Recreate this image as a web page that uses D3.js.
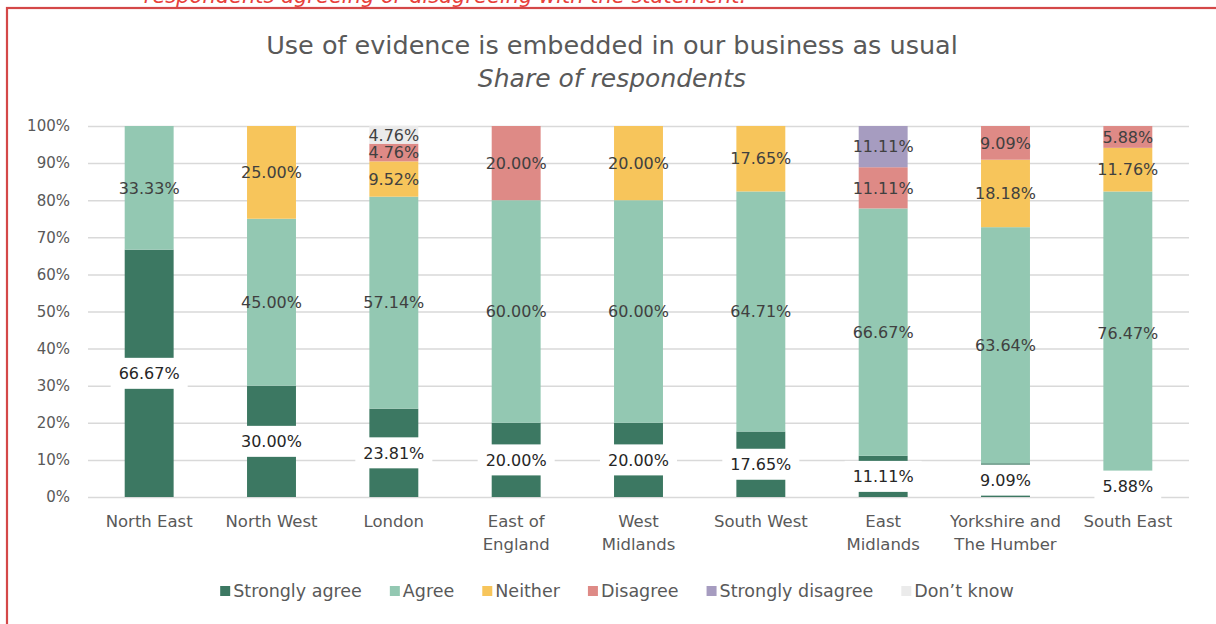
<!DOCTYPE html>
<html>
<head>
<meta charset="utf-8">
<script src="https://cdn.jsdelivr.net/npm/d3@7"></script>
<style>
  html, body { margin: 0; padding: 0; background: #fff; }
  svg { display: block; font-family: "DejaVu Sans", sans-serif; }
</style>
</head>
<body>
<div id="chart"></div>
<script>
// categories and their wrapped axis labels
const categories = ["North East", "North West", "London", "East of England", "West Midlands",
  "South West", "East Midlands", "Yorkshire and The Humber", "South East"];
const categoryLines = [["North East"], ["North West"], ["London"], ["East of", "England"],
  ["West", "Midlands"], ["South West"], ["East", "Midlands"], ["Yorkshire and", "The Humber"], ["South East"]];

// series (percent of respondents)
const seriesNames = ["Strongly agree", "Agree", "Neither", "Disagree", "Strongly disagree", "Don\u2019t know"];
const stronglyAgree    = [66.67, 30.00, 23.81, 20.00, 20.00, 17.65, 11.11, 9.09, 5.88];
const agree            = [33.33, 45.00, 57.14, 60.00, 60.00, 64.71, 66.67, 63.64, 76.47];
const neither          = [0, 25.00, 9.52, 0, 20.00, 17.65, 0, 18.18, 11.76];
const disagree         = [0, 0, 4.76, 20.00, 0, 0, 11.11, 9.09, 5.88];
const stronglyDisagree = [0, 0, 0, 0, 0, 0, 11.11, 0, 0];
const dontKnow         = [0, 0, 4.76, 0, 0, 0, 0, 0, 0];

const yTicks = [0, 10, 20, 30, 40, 50, 60, 70, 80, 90, 100];
const colors = ["#3c7862", "#93c8b2", "#f7c55b", "#de8a86", "#a69cc0", "#ebebeb"];

const seriesValues = [stronglyAgree, agree, neither, disagree, stronglyDisagree, dontKnow];
const rows = categories.map((c, i) => {
  const r = { cat: c };
  seriesNames.forEach((s, j) => { r[s] = seriesValues[j][i]; });
  return r;
});

const W = 1216, H = 624;
const svg = d3.select("#chart").append("svg")
  .attr("width", W).attr("height", H);

svg.append("rect").attr("width", W).attr("height", H).attr("fill", "#fff");

// caption from the page above, cut off at the top edge as in the source
svg.append("text")
  .attr("x", 445).attr("y", 3)
  .attr("text-anchor", "middle")
  .attr("font-size", 21)
  .attr("font-style", "italic")
  .attr("fill", "#e8403a")
  .text("respondents agreeing or disagreeing with the statement.");

// red frame
svg.append("rect")
  .attr("x", 7).attr("y", 8)
  .attr("width", W + 20).attr("height", H + 20)
  .attr("fill", "none")
  .attr("stroke", "#d44848")
  .attr("stroke-width", 2.2);

const x = d3.scaleBand()
  .domain(categories)
  .range([88, 1189])
  .paddingInner(0.6)
  .paddingOuter(0.3);

const y = d3.scaleLinear()
  .domain([0, 100])
  .range([497, 126]);

// title
svg.append("text")
  .attr("x", 612).attr("y", 54)
  .attr("text-anchor", "middle")
  .attr("font-size", 25.5)
  .attr("fill", "#595959")
  .text("Use of evidence is embedded in our business as usual");

svg.append("text")
  .attr("x", 612).attr("y", 87)
  .attr("text-anchor", "middle")
  .attr("font-size", 25)
  .attr("font-style", "italic")
  .attr("fill", "#595959")
  .text("Share of respondents");

// gridlines + y axis
const yAxis = svg.append("g")
  .attr("transform", "translate(88,0)")
  .call(d3.axisLeft(y).tickValues(yTicks).tickFormat(d => d + "%").tickSize(-1101).tickPadding(18));
yAxis.select(".domain").remove();
yAxis.selectAll(".tick line").attr("stroke", "#d9d9d9").attr("stroke-width", 1.5);
yAxis.selectAll(".tick text")
  .attr("font-size", 15)
  .attr("fill", "#595959")
  .attr("font-family", "DejaVu Sans, sans-serif");

// bars
const stacked = d3.stack().keys(seriesNames)(rows);

const layers = svg.append("g").selectAll("g")
  .data(stacked)
  .join("g")
  .attr("fill", (d, i) => colors[i]);

layers.selectAll("rect")
  .data(d => d)
  .join("rect")
  .attr("x", d => x(d.data.cat))
  .attr("width", x.bandwidth())
  .attr("y", d => y(d[1]))
  .attr("height", d => y(d[0]) - y(d[1]));

// data labels
const labelG = svg.append("g").attr("font-size", 16).attr("text-anchor", "middle");
stacked.forEach((layer, li) => {
  layer.forEach(d => {
    const v = d[1] - d[0];
    if (v <= 0) return;
    const cx = x(d.data.cat) + x.bandwidth() / 2;
    const cy = y((d[0] + d[1]) / 2);
    const txt = d.data[layer.key].toFixed(2) + "%";
    if (li === 0) {
      // strongly agree labels sit in a white box
      const t = labelG.append("text")
        .attr("x", cx).attr("y", cy).attr("dy", "0.36em")
        .attr("fill", "#262626")
        .text(txt);
      const bb = t.node().getBBox();
      labelG.insert("rect", () => t.node())
        .attr("x", bb.x - 8).attr("y", cy - 15.5)
        .attr("width", bb.width + 16).attr("height", 31)
        .attr("fill", "#fff");
    } else {
      labelG.append("text")
        .attr("x", cx).attr("y", cy).attr("dy", "0.36em")
        .attr("fill", "#404040")
        .text(txt);
    }
  });
});

// x axis labels
const xg = svg.append("g").attr("font-size", 16.5).attr("fill", "#595959").attr("text-anchor", "middle");
categories.forEach((c, i) => {
  const t = xg.append("text")
    .attr("x", x(c) + x.bandwidth() / 2)
    .attr("y", 527);
  categoryLines[i].forEach((line, k) => {
    t.append("tspan")
      .attr("x", x(c) + x.bandwidth() / 2)
      .attr("dy", k === 0 ? 0 : 23)
      .text(line);
  });
});

// legend
const legend = svg.append("g").attr("font-size", 17.5).attr("fill", "#595959");
let lx = 0;
seriesNames.forEach((s, i) => {
  const g = legend.append("g");
  g.append("rect").attr("x", 0).attr("y", -5).attr("width", 10).attr("height", 10).attr("fill", colors[i]);
  const t = g.append("text").attr("x", 13).attr("y", 0).attr("dy", "0.36em").text(s);
  const w = 13 + t.node().getComputedTextLength();
  g.attr("transform", `translate(${lx},591)`);
  lx += w + 28;
});
const totalW = lx - 28;
legend.attr("transform", `translate(${617 - totalW / 2},0)`);
</script>
</body>
</html>
